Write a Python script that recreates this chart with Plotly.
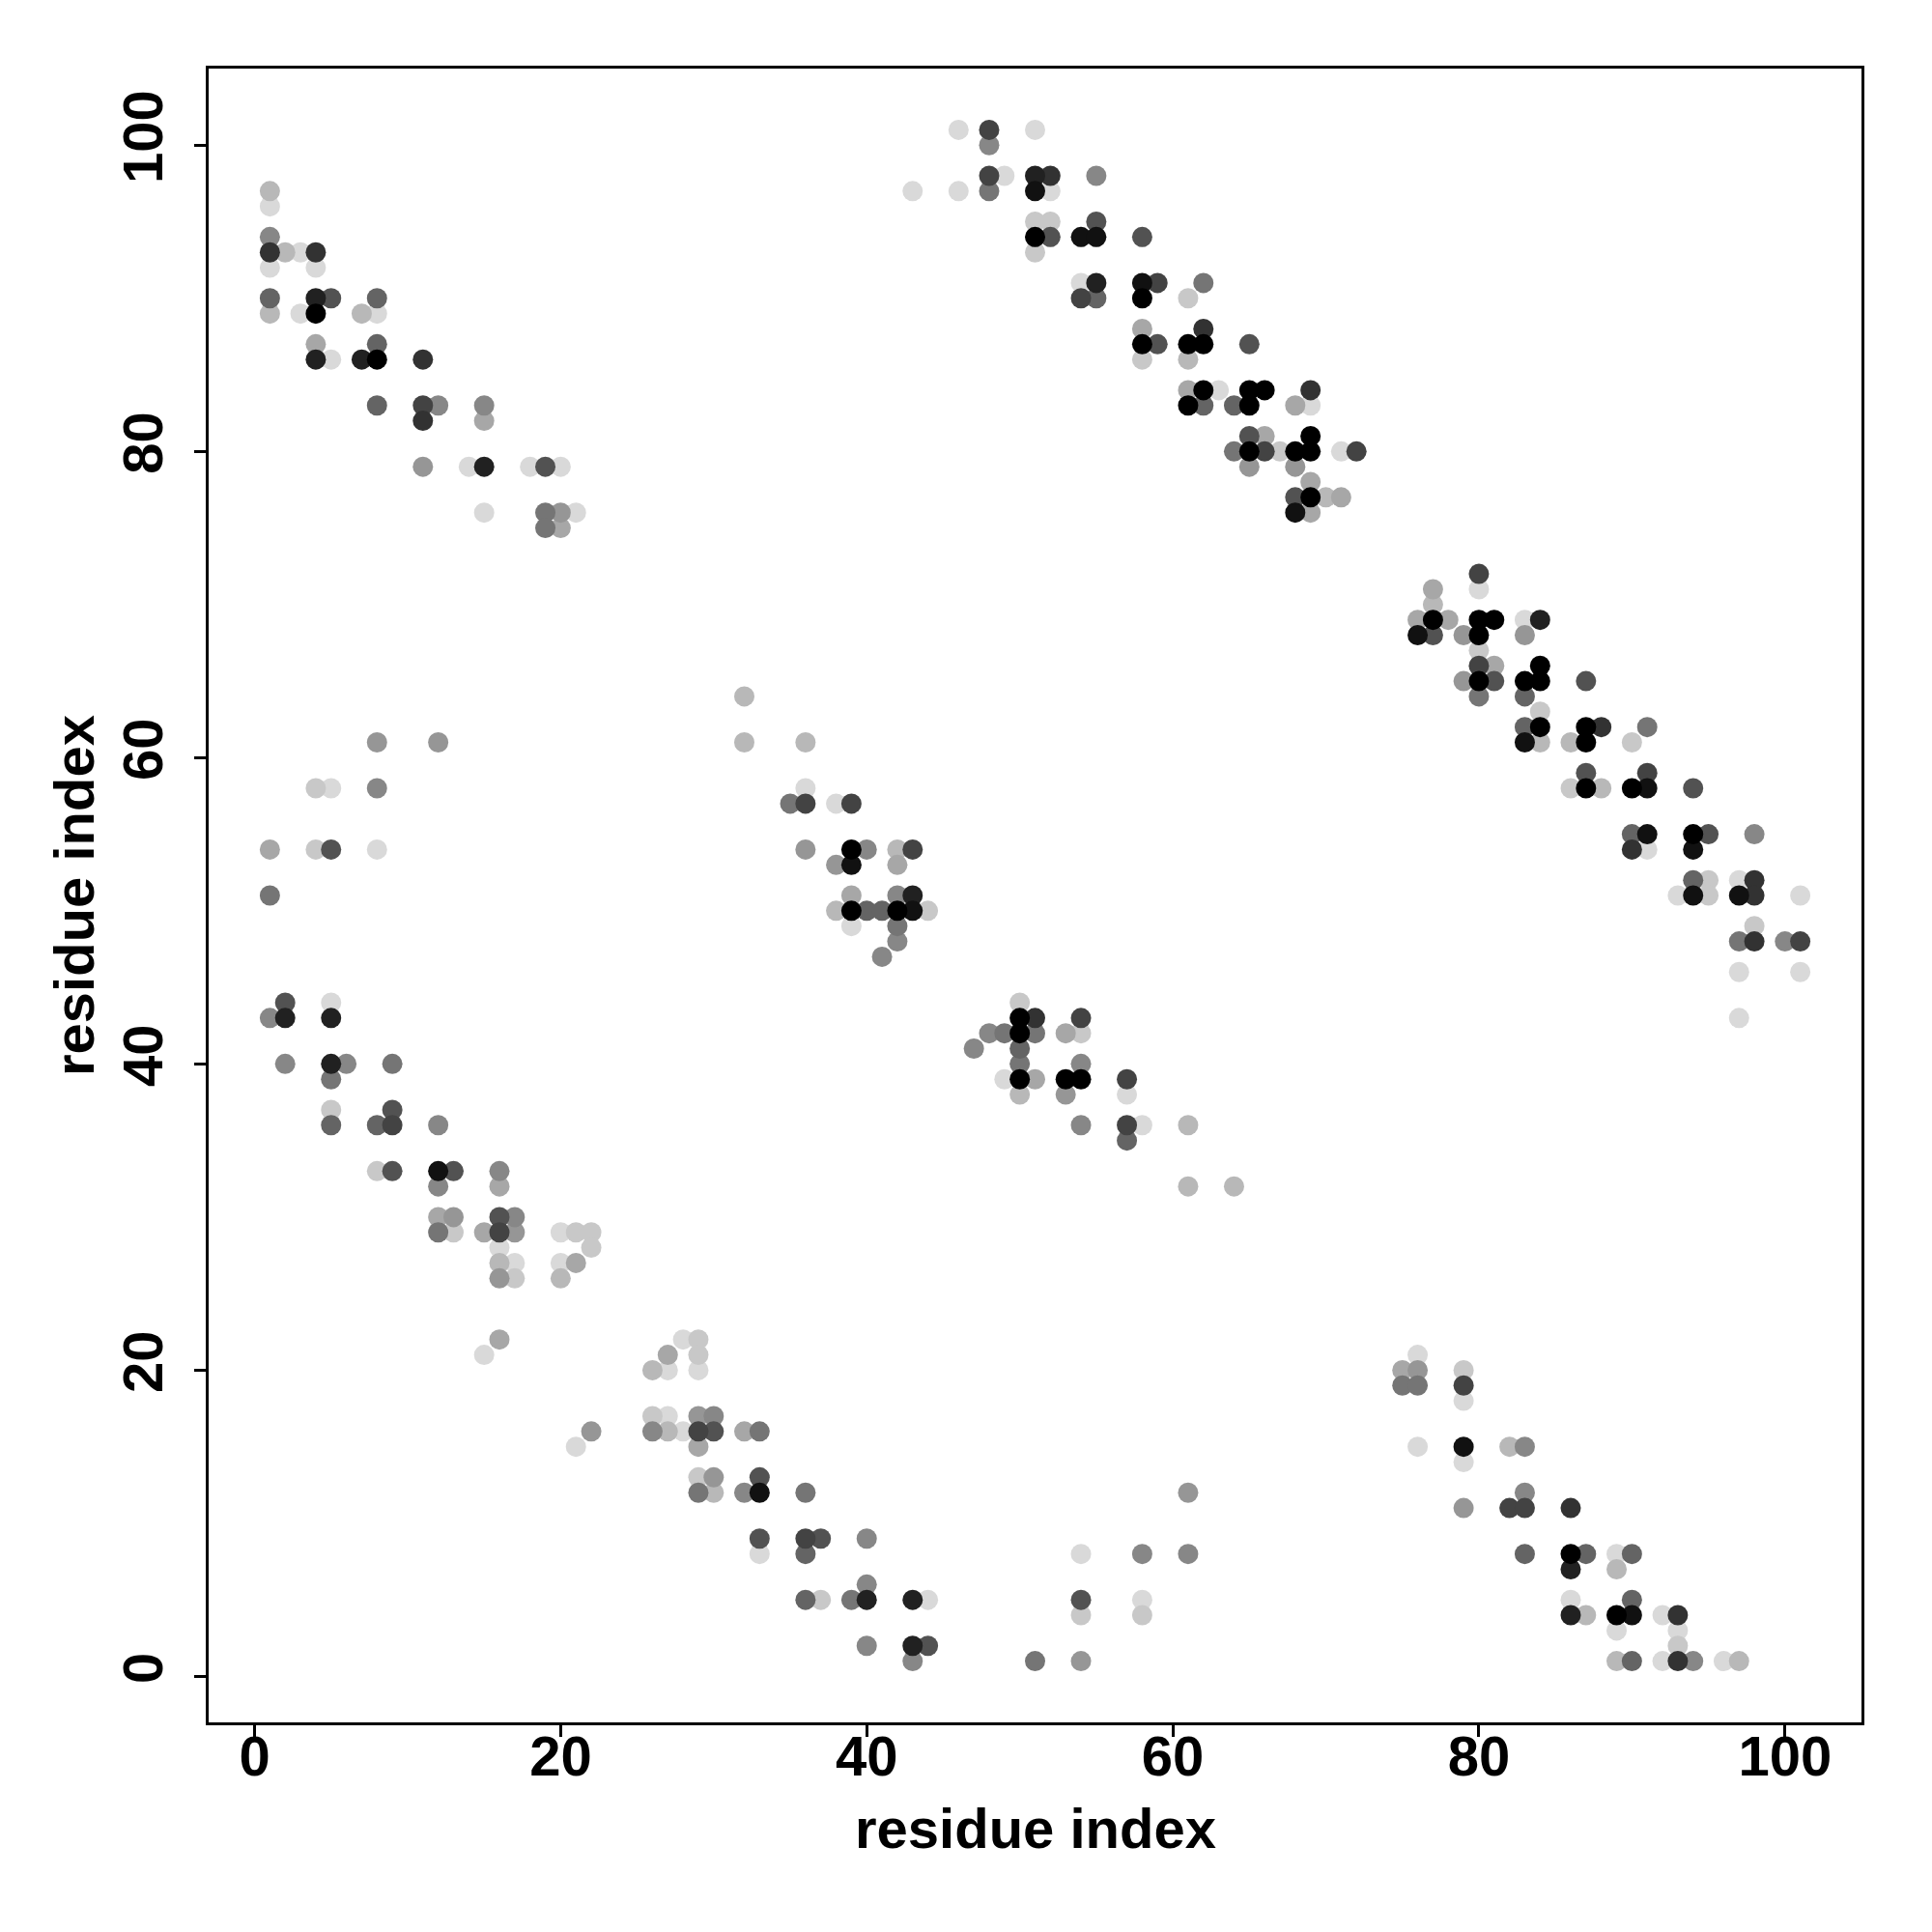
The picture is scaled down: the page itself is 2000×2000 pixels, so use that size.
import plotly.graph_objects as go

# ---- data: residue i, residue j, contact score (0 = faint, 1 = strongest) ----
tl_x = [1,1,1,1,2,3,4,1,4,1, 1,3,4,4,5,7,8,8,4,4, 5,7,8,8,11,8,11,12,11,15, 15,11,14,15,18,19,20,15,19,20, 21,19,20]
tl_y = [97,96,94,93,93,93,93,92,92,90, 89,89,90,89,90,89,90,89,87,86, 86,86,86,87,86,83,83,83,82,83, 82,79,79,79,79,79,79,76,76,76, 76,75,75]
tl_s = [.15,0,.38,.77,.15,0,.77,0,0,.54, .15,0,.85,1,.62,.15,.54,0,.23,.85, 0,.85,1,.54,.77,.54,.69,.38,.77,.38, .23,.31,0,.85,0,.62,0,0,.46,.31, 0,.46,.23]

tr_x = [43,46,46,48,48,48,48,49,51,51, 51,52,52,51,52,51,52,51,55,54, 55,55,58,54,55,54,55,58,59,62, 58,61,58,62,58,59,61,62,65,58, 61,61,62,63,65,66,69,61,62,64, 65,68,69,65,66,69,64,65,66,67, 68,69,71,72,65,68,69,68,69,70, 71,68,69]
tr_y = [97,101,97,101,100,98,97,98,101,98, 97,98,97,95,95,94,94,93,98,94, 94,95,94,91,91,90,90,91,91,91, 90,90,88,88,87,87,87,87,87,86, 86,84,84,84,84,84,84,83,83,83, 83,83,83,81,81,81,80,80,80,80, 80,80,80,80,79,79,78,77,77,77, 77,76,76]
tr_s = [0,0,0,.69,.38,.69,.46,0,0,.85, .92,.77,0,.08,.08,1,.62,.08,.38,.92, .92,.62,.62,0,.85,.69,.54,.92,.69,.46, 1,.08,.23,.77,1,.62,1,1,.62,.08, .15,.23,1,0,1,1,.77,1,.54,.54, 1,.23,0,.62,.23,1,.46,1,.69,.08, 1,1,0,.69,.31,.31,.23,.62,1,.15, .23,.92,.23]

r_x = [80,80,77,77,76,77,78,80,81,83, 84,76,77,79,80,83,80,80,81,84, 79,80,81,83,84,87,80,83,84,83, 84,87,88,91,83,84,86,87,90,87, 91,86,87,88,90,91,94,90,91,94, 95,98,90,91,94,94,95,97,98,93, 94,95,97,98,101,98,97,98,100,101, 97,101,97]
r_y = [72,71,71,70,69,69,69,69,69,69, 69,68,68,68,68,68,67,66,66,66, 65,65,65,65,65,65,64,64,63,62, 62,62,62,62,61,61,61,61,61,59, 59,58,58,58,58,58,58,55,55,55, 55,55,54,54,54,52,52,52,52,51, 51,51,51,51,51,49,48,48,48,48, 46,46,43]
r_s = [.69,0,.23,.15,.23,1,.23,1,1,0, .85,.92,.62,.31,1,.31,.08,.69,.23,1, .31,1,.62,1,1,.62,.46,.54,.08,.54, 1,1,.77,.46,.92,.15,.15,1,.08,.62, .69,.08,1,.15,1,.92,.62,.54,.92,1, .62,.38,.77,0,.92,.54,.08,0,.77,0, .92,.08,.92,.77,0,.08,.46,.77,.38,.69, 0,0,0]

lm_x = [8,12,4,5,8,1,4,5,8,1]
lm_y = [61,61,58,58,58,54,54,54,54,51]
lm_s = [.31,.31,.08,0,.38,.23,.08,.62,0,.46]

ll_x = [2,1,2,5,5,2,5,6,9,5, 5,9,5,8,9,12,8,9,12,13, 16,12,16,12,13,16,17,12,13,15, 16,17,20,21,22,16,22,16,17,20, 21,16,17,20,16,15,22,21]
ll_y = [44,43,43,44,43,40,40,40,40,39, 37,37,36,36,36,36,33,33,33,33, 33,32,32,30,30,30,30,29,29,29, 29,29,29,29,29,28,28,27,27,27, 27,26,26,26,22,21,16,15]
ll_s = [.62,.38,.85,0,.85,.38,.85,.38,.46,.46, .08,.62,.54,.54,.69,.38,.08,.62,.92,.62, .38,.38,.23,.23,.31,.62,.38,.46,.08,.23, .69,.31,0,.08,.08,0,.08,.15,0,0, .23,.31,.08,.15,.23,0,.31,0]

c_x = [32,32,36,36,35,36,38,39,36,39, 40,42,43,38,39,42,39,42,43,38, 39,40,41,42,43,44,39,42,42,41]
c_y = [64,61,61,58,57,57,57,57,54,54, 54,54,54,53,53,53,51,51,51,50, 50,50,50,50,50,50,49,49,48,47]
c_s = [.15,.15,.15,0,.46,.69,0,.69,.31,1, .38,.15,.69,.31,.92,.23,.23,.38,.85,.15, 1,.54,.54,1,.92,.08,0,.46,.38,.38]

cr_x = [50,50,51,54,48,49,50,51,53,54, 47,50,50,54,49,50,51,53,54,57, 50,53,57,54,57,58,61,57,61,64]
cr_y = [44,43,43,43,42,42,42,42,42,42, 41,41,40,40,39,39,39,39,39,39, 38,38,38,36,36,36,36,35,32,32]
cr_s = [.08,1,.77,.69,.38,.46,1,.46,.23,.08, .38,.54,.46,.38,0,1,.23,1,1,.69, .15,.31,0,.38,.69,0,.15,.54,.15,.15]

bl_x = [28,29,27,29,26,27,29,26,27,29, 30,26,27,28,29,30,32,33,29,29, 30,33,29,30,32,33,36,33,36,37, 40,33,36,40,36,37,39,40,43,44, 40,43,44,43]
bl_y = [22,22,21,21,20,20,20,17,17,17, 17,16,16,16,16,16,16,16,15,13, 13,13,12,12,12,12,12,9,9,9, 9,8,8,6,5,5,5,5,5,5, 2,2,2,1]
bl_s = [0,.08,.23,.08,.15,0,0,.08,0,.31, .38,.38,.15,0,.69,.62,.23,.46,.23,.08, .31,.62,.46,.15,.38,.92,.46,.62,.69,.62, .38,0,.54,.38,.54,.08,.46,.85,.85,0, .38,.85,.62,.38]

bm_x = [61,54,58,61,54,58,54,58,51,54]
bm_y = [12,8,8,8,5,5,4,4,1,1]
bm_s = [.31,0,.38,.38,.62,0,.08,.08,.46,.31]

br_x = [76,75,76,79,75,76,79,79,76,79, 82,83,79,83,79,82,83,86,83,86, 87,89,90,86,89,86,90,86,87,89, 90,92,93,89,93,93,89,90,92,93, 94,96,97]
br_y = [21,20,20,20,19,19,19,18,15,15, 15,15,14,12,11,11,11,11,8,8, 8,8,8,7,7,5,5,4,4,4, 4,4,4,3,3,2,1,1,1,1, 1,1,1]
br_s = [0,.23,.31,.08,.46,.46,.69,0,0,.92, .15,.38,0,.38,.31,.69,.69,.77,.54,1, .54,0,.54,.85,.15,0,.54,.85,.15,1, .92,0,.77,0,0,.08,.15,.54,0,.77, .38,0,.15]

x_ticks = [0, 20, 40, 60, 80, 100]
y_ticks = [0, 20, 40, 60, 80, 100]
axis_label = "residue index"

groups = [(tl_x, tl_y, tl_s), (tr_x, tr_y, tr_s), (r_x, r_y, r_s), (lm_x, lm_y, lm_s),
          (ll_x, ll_y, ll_s), (c_x, c_y, c_s), (cr_x, cr_y, cr_s), (bl_x, bl_y, bl_s),
          (bm_x, bm_y, bm_s), (br_x, br_y, br_s)]
pts = []
for gx, gy, gs in groups:
    assert len(gx) == len(gy) == len(gs), (len(gx), len(gy), len(gs))
    pts += list(zip(gx, gy, gs))
pts.sort(key=lambda p: p[2])  # faint first, strong on top
xs = [p[0] for p in pts]
ys = [p[1] for p in pts]
ss = [p[2] for p in pts]

fig = go.Figure(go.Scatter(
    x=xs, y=ys, mode="markers",
    marker=dict(size=21, color=ss, cmin=0, cmax=1,
                colorscale=[[0, "#d9d9d9"], [1, "#000000"]],
                line=dict(width=0), showscale=False),
    hoverinfo="x+y",
))

font_family = "Liberation Sans, Arial, Helvetica, sans-serif"
W, H = 2000, 2000
OFF = 8  # page body margin offset
ML, MR, MT, MB = 216 - OFF, 73 + OFF, 71 - OFF, 217 + OFF
axis_common = dict(
    range=[-3, 105], showgrid=False, zeroline=False, automargin=False,
    showline=True, linecolor="black", linewidth=2.5, mirror=True,
    ticks="outside", ticklen=12, tickwidth=2.5, tickcolor="black",
    tickfont=dict(family=font_family, size=58, color="black", weight="bold"),
)
title_font = dict(family=font_family, size=58, color="black", weight="bold")
fig.update_layout(
    width=W, height=H,
    paper_bgcolor="white", plot_bgcolor="white",
    margin=dict(l=ML, r=MR, t=MT, b=MB),
    showlegend=False,
    xaxis=dict(**axis_common, tickvals=x_ticks, ticklabelstandoff=-29),
    yaxis=dict(**axis_common, tickvals=y_ticks, tickangle=-90, ticklabelstandoff=10),
)
plot_h = H - MT - MB
plot_w = W - ML - MR
# axis titles placed as text in paper coordinates (page pixel targets minus offset)
fig.add_annotation(text=axis_label, xref="paper", yref="paper",
                   x=0.5, y=-(1892 - OFF - (H - MB)) / plot_h, xanchor="center", yanchor="middle",
                   showarrow=False, font=title_font)
fig.add_annotation(text=axis_label, xref="paper", yref="paper",
                   x=-(ML - (76 - OFF)) / plot_w, y=0.5, xanchor="center", yanchor="middle",
                   textangle=-90, showarrow=False, font=title_font)
fig.write_html("out.html")
